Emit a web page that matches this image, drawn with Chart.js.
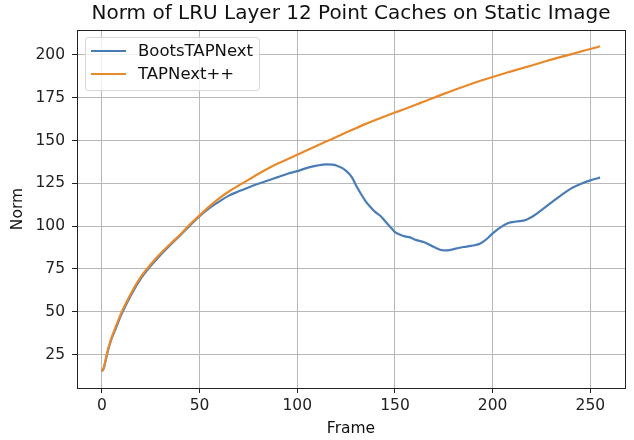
<!DOCTYPE html>
<html>
<head>
<meta charset="utf-8">
<script src="https://cdn.jsdelivr.net/npm/chart.js@4"></script>
<style>
  html, body { margin: 0; padding: 0; background: #fff; }
  #wrap { width: 634px; height: 440px; }
</style>
</head>
<body>
<div id="wrap"><canvas id="myChart" width="634" height="440"></canvas></div>
<script>
// data
const chartTitle = 'Norm of LRU Layer 12 Point Caches on Static Image';
const seriesNames = ['BootsTAPNext', 'TAPNext++'];

const bootsFrames = [0, 1, 2, 3, 4, 5, 7, 10, 15, 20, 25, 30, 35, 40, 45, 50,
    55, 60, 65, 70, 75, 80, 85, 90, 95, 100, 105, 110, 115, 120, 125,
    128, 130, 133, 135, 138, 140, 143, 145, 148, 150, 153, 155, 158, 160,
    165, 170, 175, 178, 180, 185, 190, 193, 195, 198, 200, 205, 208, 212,
    217, 220, 225, 230, 235, 240, 245, 250, 255];
const bootsNorm = [15.3, 17.3, 22, 27, 31, 34.5, 40, 48.5, 60, 69.5, 76.8, 83.2, 89, 94.5, 100.3, 105.8,
    110.5, 114.3, 117.8, 120.3, 122.6, 124.7, 126.6, 128.6, 130.6, 132.1, 134, 135.3, 136, 135.4, 132.3,
    128.5, 124, 118, 114.5, 110.5, 108.2, 105.5, 102.8, 99, 96.5, 94.8, 94, 93.3, 92.2,
    90.6, 87.8, 85.8, 86, 86.6, 87.8, 88.7, 89.5, 90.8, 93.5, 95.8, 100, 101.8, 102.7,
    103.6, 105.3, 109.4, 113.7, 118, 121.9, 124.6, 126.7, 128.3];

const plusFrames = [0, 1, 2, 3, 4, 5, 7, 10, 15, 20, 25, 30, 35, 40, 45, 50,
    55, 60, 65, 70, 75, 80, 85, 90, 95, 100, 105, 110, 115, 120, 125,
    130, 135, 140, 145, 150, 155, 160, 165, 170, 175, 180, 185, 190, 195,
    200, 205, 210, 215, 220, 225, 230, 235, 240, 245, 250, 255];
const plusNorm = [15.3, 17.5, 22.5, 27.5, 31.5, 35, 41, 49.5, 61, 70.5, 77.7, 84, 89.6, 95, 101, 106.3,
    111.5, 116.2, 120.2, 123.7, 127, 130.4, 133.6, 136.5, 139.1, 141.6, 144.3, 146.9, 149.5, 152, 154.6,
    157.2, 159.7, 162, 164.2, 166.3, 168.4, 170.6, 172.8, 175, 177.2, 179.3, 181.4, 183.4, 185.3,
    187.1, 188.8, 190.5, 192.2, 193.8, 195.5, 197.2, 198.8, 200.3, 201.9, 203.4, 205];

const xTicks = [0, 50, 100, 150, 200, 250];
const yTicks = [25, 50, 75, 100, 125, 150, 175, 200];

const FONT = 'DejaVu Sans';
const blue = '#4a7db6';
const orange = '#e8892c';

function toPoints(xs, ys) {
    return xs.map((x, i) => ({x: x, y: ys[i]}));
}

// frame all four sides, title over the plot, legend inside top-left
const decorations = {
    id: 'decorations',
    afterDraw(chart) {
        const ctx = chart.ctx;
        const a = chart.chartArea;
        ctx.save();
        ctx.strokeStyle = '#222';
        ctx.lineWidth = 1;
        ctx.strokeRect(Math.round(a.left) + 0.5, Math.round(a.top) + 0.5,
            Math.round(a.right - a.left), Math.round(a.bottom - a.top));

        ctx.fillStyle = '#111';
        ctx.font = '20px "' + FONT + '"';
        ctx.textAlign = 'center';
        ctx.textBaseline = 'middle';
        ctx.fillText(chartTitle, (a.left + a.right) / 2, 14);

        // legend
        const bx = 85, by = 37, bw = 174, bh = 53;
        ctx.fillStyle = 'rgba(255,255,255,0.8)';
        ctx.strokeStyle = '#d6d6d6';
        ctx.beginPath();
        ctx.roundRect(bx + 0.5, by + 0.5, bw, bh, 3);
        ctx.fill();
        ctx.stroke();
        const rows = [[seriesNames[0], blue, 51], [seriesNames[1], orange, 74]];
        ctx.font = '16.5px "' + FONT + '"';
        ctx.textAlign = 'left';
        rows.forEach(r => {
            ctx.strokeStyle = r[1];
            ctx.lineWidth = 2.2;
            ctx.beginPath();
            ctx.moveTo(91, r[2]);
            ctx.lineTo(126, r[2]);
            ctx.stroke();
            ctx.fillStyle = '#111';
            ctx.fillText(r[0], 138, r[2] + 1);
        });
        ctx.restore();
    }
};

const config = {
    type: 'line',
    data: {
        datasets: [{
            label: seriesNames[0],
            data: toPoints(bootsFrames, bootsNorm),
            borderColor: blue,
            borderWidth: 2.2,
            pointRadius: 0,
            cubicInterpolationMode: 'monotone',
            order: 1
        }, {
            label: seriesNames[1],
            data: toPoints(plusFrames, plusNorm),
            borderColor: orange,
            borderWidth: 2.2,
            pointRadius: 0,
            cubicInterpolationMode: 'monotone',
            order: 0
        }]
    },
    options: {
        responsive: false,
        animation: false,
        layout: {padding: {top: 30, right: 9, bottom: 0, left: 0}},
        plugins: {
            legend: {display: false},
            tooltip: {enabled: false},
            title: {display: false}
        },
        scales: {
            x: {
                type: 'linear',
                min: -12.75,
                max: 267.75,
                afterBuildTicks: scale => { scale.ticks = xTicks.map(v => ({value: v})); },
                afterFit: scale => { scale.height = 52; },
                grid: {color: '#b8b8b8', lineWidth: 1, tickLength: 5, tickColor: '#222'},
                border: {display: false},
                ticks: {color: '#222', font: {family: FONT, size: 15.5}, padding: 4, maxRotation: 0},
                title: {display: true, text: 'Frame', color: '#111',
                    font: {family: FONT, size: 15.5}, padding: {top: 0, bottom: 2}}
            },
            y: {
                type: 'linear',
                min: 5.5,
                max: 214.5,
                afterBuildTicks: scale => { scale.ticks = yTicks.map(v => ({value: v})); },
                afterFit: scale => { scale.width = 77; },
                grid: {color: '#b8b8b8', lineWidth: 1, tickLength: 5, tickColor: '#222'},
                border: {display: false},
                ticks: {color: '#222', font: {family: FONT, size: 15.5}, padding: 7},
                title: {display: true, text: 'Norm', color: '#111',
                    font: {family: FONT, size: 15.5}, padding: {top: 9, bottom: 0}}
            }
        }
    },
    plugins: [decorations]
};

new Chart(document.getElementById('myChart'), config);
</script>
</body>
</html>
